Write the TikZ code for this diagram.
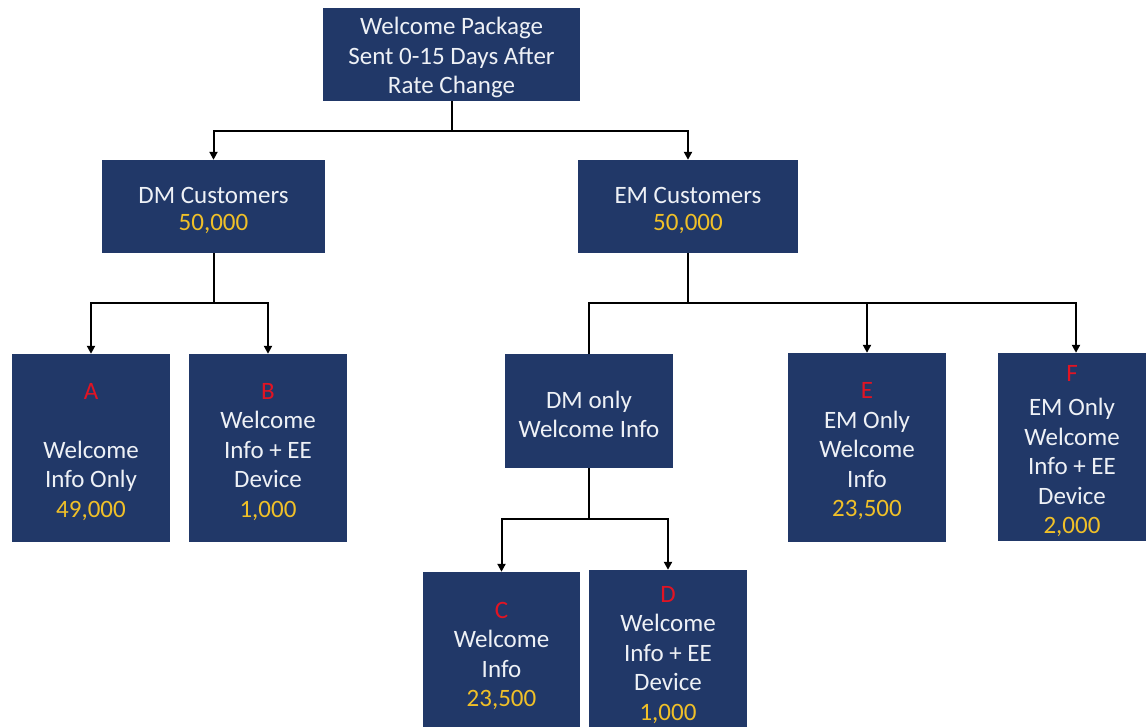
\documentclass[tikz,border=0pt]{standalone}
\usepackage{fontspec}
\setmainfont{Carlito}
\usetikzlibrary{arrows.meta}
\definecolor{navy}{RGB}{33,56,104}
\definecolor{txt}{RGB}{238,241,246}
\definecolor{gold}{RGB}{240,192,40}
\definecolor{lred}{RGB}{225,20,35}
\newcommand{\numc}[1]{\textcolor{gold}{#1}}
\newcommand{\lettr}[1]{\textcolor{lred}{#1}}
\newcommand{\tstrut}{\rule{0pt}{24pt}}
\begin{document}
\begin{tikzpicture}[x=1pt,y=-1pt,
  box/.style={fill=navy,text=txt,inner sep=0pt,align=center,
    font=\fontsize{25}{29.5}\selectfont},
  line/.style={line width=2pt,black},
  arr/.style={line,-{Triangle[length=8pt,width=8pt]}}]
\useasboundingbox (0,0) rectangle (1148,727);
% boxes
\node[box,minimum width=257pt,minimum height=93pt] (top) at (451.5,54.5)
  {\tstrut Welcome Package\\Sent 0-15 Days After\\Rate Change};
\node[box,minimum width=223pt,minimum height=93pt] (dm) at (213.5,206.5)
  {\tstrut DM Customers\\[-2pt]\numc{50,000}};
\node[box,minimum width=220pt,minimum height=93pt] (em) at (688,206.5)
  {\tstrut EM Customers\\[-2pt]\numc{50,000}};
\node[box,minimum width=158pt,minimum height=188pt] (a) at (91,448)
  {\tstrut\lettr{A}\\[29.5pt]Welcome\\Info Only\\\numc{49,000}};
\node[box,minimum width=158pt,minimum height=188pt] (b) at (268,448)
  {\tstrut\lettr{B}\\Welcome\\Info + EE\\Device\\\numc{1,000}};
\node[box,minimum width=168pt,minimum height=114pt] (dmo) at (589,411)
  {\tstrut DM only\\Welcome Info};
\node[box,minimum width=158pt,minimum height=189pt] (e) at (867,447.5)
  {\tstrut\lettr{E}\\EM Only\\Welcome\\Info\\\numc{23,500}};
\node[box,minimum width=148pt,minimum height=188pt] (f) at (1072,447)
  {\tstrut\lettr{F}\\[5pt]EM Only\\Welcome\\Info + EE\\Device\\\numc{2,000}};
\node[box,minimum width=157pt,minimum height=168pt] (c) at (501.5,656)
  {\lettr{C}\\Welcome\\Info\\\numc{23,500}};
\node[box,minimum width=158pt,minimum height=170pt] (d) at (668,655)
  {\lettr{D}\\Welcome\\Info + EE\\Device\\\numc{1,000}};
% junctions
\coordinate (j1) at (452,131);
\coordinate (j2) at (213.5,303);
\coordinate (j3) at (688,303);
\coordinate (j4) at (589,519);
% connectors
\draw[line] (top.south -| j1) -- (j1);
\draw[arr] (j1) -| (dm.north);
\draw[arr] (j1) -| (em.north);
\draw[line] (dm.south) -- (j2);
\draw[arr] (j2) -| (a.north);
\draw[arr] (j2) -| (b.north);
\draw[line] (em.south) -- (j3);
\draw[line] (j3) -| (dmo.north);
\draw[arr] (j3) -| (e.north);
\draw[arr] (j3) -| ([xshift=4pt]f.north);
\draw[line] (dmo.south) -- (j4);
\draw[arr] (j4) -| (c.north);
\draw[arr] (j4) -| (d.north);
\end{tikzpicture}
\end{document}
